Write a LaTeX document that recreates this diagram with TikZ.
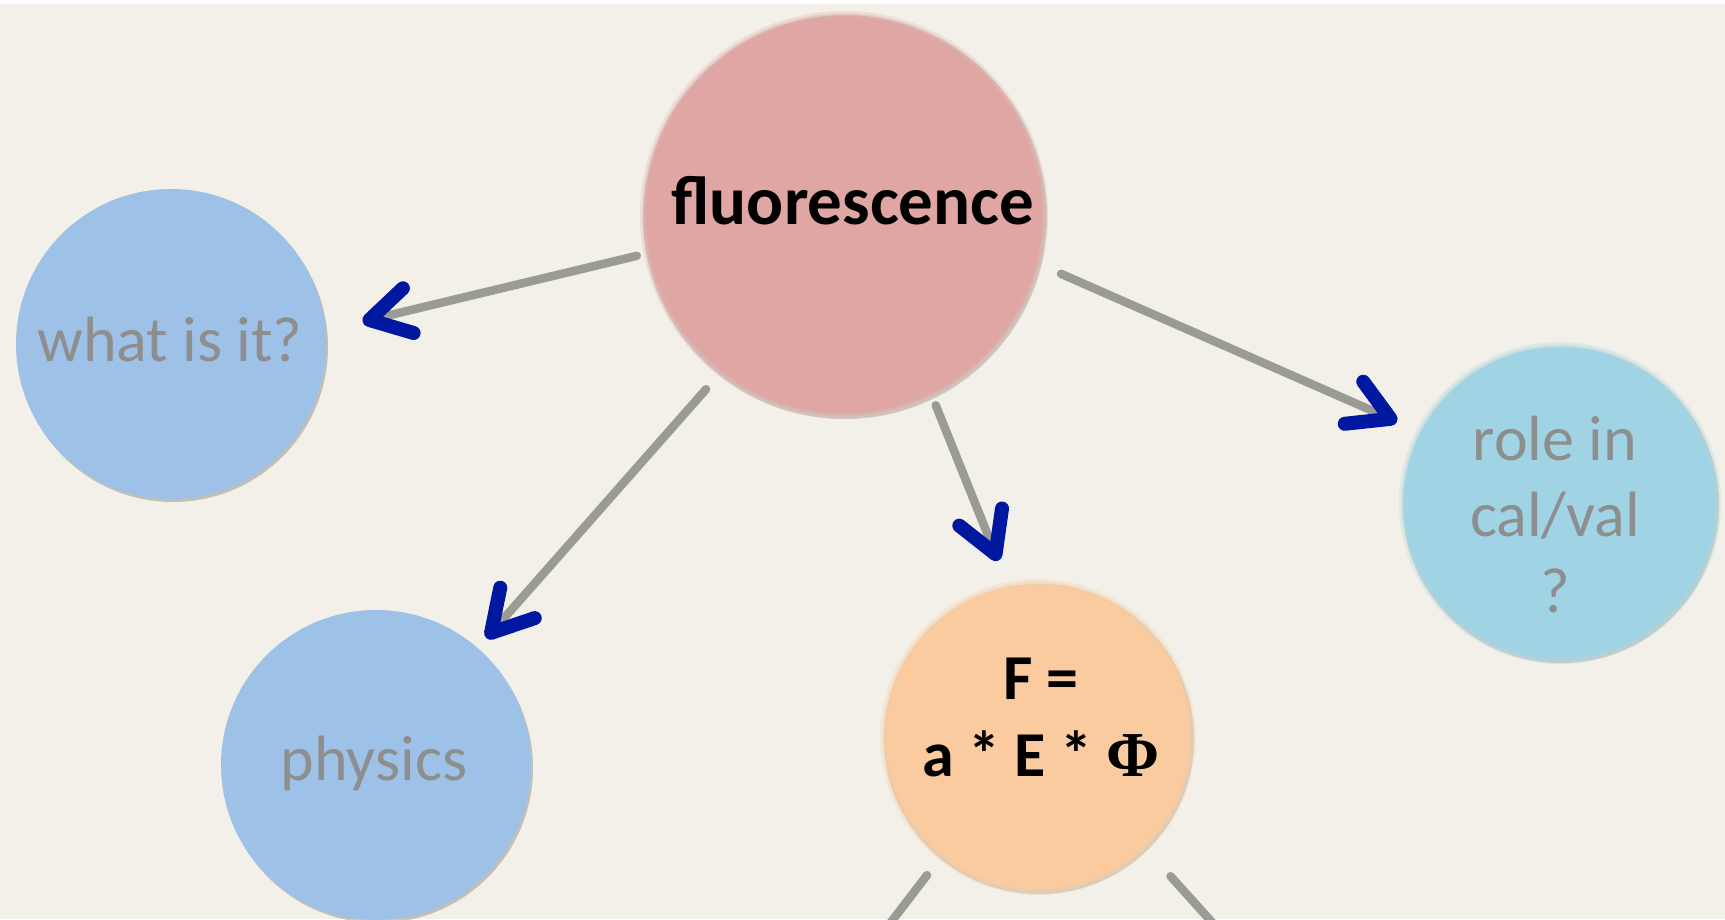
\documentclass[tikz,border=0pt]{standalone}
\usepackage{fontspec}
\setmainfont{Carlito}
\newfontfamily\phifont{Liberation Serif}
\usetikzlibrary{arrows.meta,shadows,calc}
\definecolor{bgc}{HTML}{F2F0E8}
\definecolor{fluoc}{HTML}{E0A6A3}
\definecolor{bluec}{HTML}{9DC1E7}
\definecolor{rolec}{HTML}{A0D4E4}
\definecolor{orangec}{HTML}{FACB9F}
\definecolor{graytext}{HTML}{8E8E8E}
\definecolor{linegray}{HTML}{9B9B96}
\definecolor{tipblue}{HTML}{0018A0}
\begin{document}
\begin{tikzpicture}[x=1pt,y=1pt,
  sharpc/.style={circle, inner sep=0pt, minimum size=#1,
    drop shadow={shadow xshift=2pt, shadow yshift=-3pt, opacity=0.35, fill=black!60}},
  softc/.style={circle, inner sep=0pt, minimum size=#1,
    drop shadow={shadow xshift=1pt, shadow yshift=-2pt, shadow scale=1.02, opacity=0.25, fill=black!60}},
  softfill/.style={fill=#1,
    preaction={draw=#1, draw opacity=0.25, line width=12pt},
    preaction={draw=#1, draw opacity=0.35, line width=7pt},
    preaction={draw=#1, draw opacity=0.5, line width=3pt}},
  txt/.style={inner sep=0pt, align=center, text=graytext,
    font=\fontsize{64pt}{76pt}\selectfont},
  btxt/.style={inner sep=0pt, align=center, text=black,
    font=\fontsize{69pt}{77pt}\selectfont\bfseries},
  conn/.style={draw=linegray, line width=8.5pt, line cap=round},
  arr/.style={conn, -{Straight Barb[color=tipblue, length=40pt, width=46pt, line width=14pt, round]}}
]
\useasboundingbox (0,0) rectangle (1725,919);
\fill[white] (0,0) rectangle (1725,919);
\fill[bgc] (0,0) rectangle (1725,915);

% nodes
\node[softc=396, softfill=fluoc] (fluo) at (844,704) {};
\node[sharpc=310, fill=bluec] (what) at (171,575) {};
\node[sharpc=310, fill=bluec] (phys) at (376,154) {};
\node[softc=304, softfill=orangec] (F) at (1038,182) {};
\node[softc=310, softfill=rolec] (role) at (1560,416) {};

% texts
\node[btxt, anchor=base] (fluoT) at (853,694) {fluorescence};
\node[txt, anchor=base] (whatT) at (170,557) {what is it?};
\node[txt, anchor=base] (physT) at (374,138) {physics};
\node[btxt, anchor=base, font=\fontsize{64pt}{77pt}\selectfont\bfseries] (FT) at (1041,142) {F =\\a * E * {\phifont\bfseries Φ}};
\node[txt, anchor=base] (roleT) at (1555,306) {role in\\cal/val\\?};

% off-picture ends
\coordinate (offL) at (862,-41);
\coordinate (offR) at (1246,-41);

% connectors
\draw[arr, shorten <=13pt, shorten >=38pt] (fluo.191) -- (what.5);
\draw[arr, shorten <=27pt, shorten >=27pt] (fluo.-14.5) -- (role.153.3);
\draw[arr, shorten <=24pt, shorten >=13pt] (fluo.232.4) -- (phys.49.6);
\draw[arr, shorten <=13pt, shorten >=29pt] (fluo.-64.3) -- (F.101.9);
\draw[conn, shorten <=25pt] (F.231.1) -- (offL);
\draw[conn, shorten <=40pt] (F.-46) -- (offR);
\end{tikzpicture}
\end{document}
